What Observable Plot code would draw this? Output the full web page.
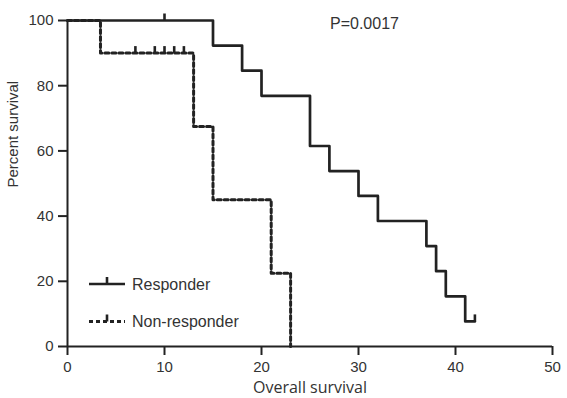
<!DOCTYPE html>
<html><head><meta charset="utf-8">
<script src="https://cdn.jsdelivr.net/npm/d3@7"></script>
<script src="https://cdn.jsdelivr.net/npm/@observablehq/plot@0.6"></script>
<style>
body{margin:0;background:#fff;}
#wrap{position:relative;width:567px;height:398px;overflow:hidden;}
#legend{position:absolute;left:0;top:0;pointer-events:none;}
</style></head><body><div id="wrap"></div>
<script>
// Responder (Kaplan-Meier steps)
const respTime = [0, 15, 18, 20, 25, 27, 30, 32, 37, 38, 39, 41, 42];
const respSurv = [100, 92.3, 84.6, 76.9, 61.5, 53.8, 46.2, 38.5, 30.8, 23.1, 15.4, 7.7, 7.7];
const respCensorTime = [10, 42];
const respCensorSurv = [100, 7.7];
// Non-responder
const nonTime = [0, 3.4, 13, 15, 21, 23];
const nonSurv = [100, 90, 67.5, 45, 22.5, 0];
const nonCensorTime = [7, 9, 10, 11, 12];
const nonCensorSurv = [90, 90, 90, 90, 90];
const xTicks = [0, 10, 20, 30, 40, 50];
const yTicks = [0, 20, 40, 60, 80, 100];
const seriesNames = ["Responder", "Non-responder"];
const pText = "P=0.0017";
const xLabel = "Overall survival";
const yLabel = "Percent survival";

const resp = respTime.map((t, i) => ({t, s: respSurv[i]}));
const non = nonTime.map((t, i) => ({t, s: nonSurv[i]}));
const respC = respCensorTime.map((t, i) => ({t, s: respCensorSurv[i]}));
const nonC = nonCensorTime.map((t, i) => ({t, s: nonCensorSurv[i]}));

const censorTick = {draw(ctx) { ctx.moveTo(0, 0); ctx.lineTo(0, -7); }};
const ink = "#222";
const font = "Liberation Sans, Arial, Helvetica, sans-serif";

const W = 567, H = 398, mL = 67, mR = 15, mT = 20, mB = 52;
const plot = Plot.plot({
  width: W, height: H,
  marginLeft: mL, marginRight: mR, marginTop: mT, marginBottom: mB,
  style: {fontFamily: font, fontSize: "15px", color: "#333", background: "#fff", overflow: "visible"},
  x: {domain: [0, 50]},
  y: {domain: [0, 100]},
  marks: [
    Plot.axisX({ticks: xTicks, tickSize: 9, tickPadding: 6, strokeWidth: 2, stroke: ink, fontSize: 15, label: null, tickFormat: d => d}),
    Plot.axisY({ticks: yTicks, tickSize: 9, tickPadding: 5, strokeWidth: 2, stroke: ink, fontSize: 15, label: null, tickFormat: d => d}),
    Plot.ruleX([0], {stroke: ink, strokeWidth: 2}),
    Plot.ruleY([0], {stroke: ink, strokeWidth: 2}),
    Plot.line(non, {x: "t", y: "s", curve: "step-after", stroke: ink, strokeWidth: 3, strokeDasharray: "4,3"}),
    Plot.line(resp, {x: "t", y: "s", curve: "step-after", stroke: ink, strokeWidth: 2.7}),
    Plot.dot(respC, {x: "t", y: "s", symbol: censorTick, r: 3, stroke: ink, strokeWidth: 2.6, fill: "none"}),
    Plot.dot(nonC, {x: "t", y: "s", symbol: censorTick, r: 3, stroke: ink, strokeWidth: 2.6, fill: "none"}),
    Plot.text([pText], {frameAnchor: "top", textAnchor: "start", lineAnchor: "middle", dx: 20, dy: 3, fontSize: 16, fill: "#333"}),
    Plot.text([xLabel], {frameAnchor: "bottom", lineAnchor: "top", dy: 35, fontSize: 16, fontFamily: "Open Sans, sans-serif", fill: "#333"}),
    Plot.text([yLabel], {frameAnchor: "left", rotate: -90, lineAnchor: "middle", dx: -54, dy: 4, fontSize: 15, fill: "#333"})
  ]
});
const wrap = document.getElementById("wrap");
wrap.appendChild(plot);

// Legend overlay
const ns = "http://www.w3.org/2000/svg";
const leg = document.createElementNS(ns, "svg");
leg.setAttribute("id", "legend");
leg.setAttribute("width", W);
leg.setAttribute("height", H);
const items = [
  {name: seriesNames[0], y: 284, dash: null, w: 2.7},
  {name: seriesNames[1], y: 321.5, dash: "4,3", w: 3}
];
for (const it of items) {
  const l = document.createElementNS(ns, "line");
  l.setAttribute("x1", 89); l.setAttribute("x2", 125);
  l.setAttribute("y1", it.y); l.setAttribute("y2", it.y);
  l.setAttribute("stroke", ink); l.setAttribute("stroke-width", it.w);
  if (it.dash) l.setAttribute("stroke-dasharray", it.dash);
  leg.appendChild(l);
  const tk = document.createElementNS(ns, "line");
  tk.setAttribute("x1", 107); tk.setAttribute("x2", 107);
  tk.setAttribute("y1", it.y); tk.setAttribute("y2", it.y - 7);
  tk.setAttribute("stroke", ink); tk.setAttribute("stroke-width", 2.6);
  leg.appendChild(tk);
  const tx = document.createElementNS(ns, "text");
  tx.setAttribute("x", 132); tx.setAttribute("y", it.y + 5.5);
  tx.setAttribute("font-family", font); tx.setAttribute("font-size", 16);
  tx.setAttribute("fill", "#333");
  tx.textContent = it.name;
  leg.appendChild(tx);
}
wrap.appendChild(leg);
</script></body></html>
